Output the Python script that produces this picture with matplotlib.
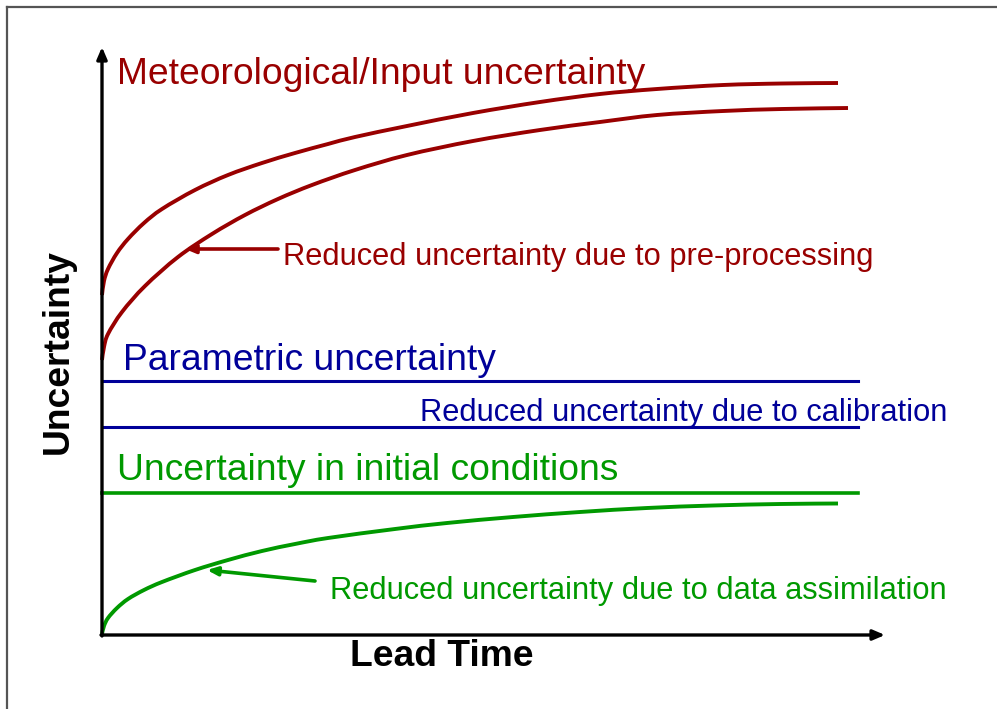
import matplotlib.pyplot as plt
import numpy as np
from matplotlib.lines import Line2D
from matplotlib.path import Path
from matplotlib.patches import PathPatch

plt.rcParams['font.family'] = ['Liberation Sans', 'DejaVu Sans']

RED = '#990000'
BLUE = '#000099'
GREEN = '#009900'

# lead time / uncertainty readings (arbitrary units, origin at the axes corner)
met_lead = [0, 2, 6, 15, 26, 42, 60, 93, 126, 160, 193, 226, 253, 305, 371, 438, 498, 555, 621,
            680, 736]
met_unc = [340, 354, 366, 382, 396, 412, 426, 445, 460, 472, 482, 491, 498, 509, 522, 533, 541,
           546, 550, 551.5, 552]

preproc_lead = [0, 2, 6, 20, 43, 76, 110, 143, 176, 210, 253, 305, 371, 438, 498, 555, 621,
                680, 746]
preproc_unc = [275, 288, 301, 323, 349, 378, 401, 420, 436, 450, 465, 480, 494, 505, 513, 520,
               524, 526, 527]

da_lead = [0, 2, 6, 15, 26, 42, 60, 93, 126, 160, 193, 226, 293, 345, 411, 478, 545, 611, 678,
           736]
da_unc = [1, 9, 17, 27, 36, 45, 53, 65, 75, 84, 91, 97, 106, 112, 118, 123, 127, 129.5, 131,
          131.5]

flat_end = 756
param_unc = 254
calib_unc = 208
init_unc = 142


def smooth_path(xs, ys):
    """Bezier path through the points (Catmull-Rom tangents)."""
    pts = np.column_stack([xs, ys]).astype(float)
    ext = np.vstack([pts[0], pts, pts[-1]])
    verts = [pts[0]]
    codes = [Path.MOVETO]
    for i in range(1, len(ext) - 2):
        p0, p1, p2, p3 = ext[i - 1], ext[i], ext[i + 1], ext[i + 2]
        verts += [p1 + (p2 - p0) / 6, p2 - (p3 - p1) / 6, p2]
        codes += [Path.CURVE4] * 3
    return Path(verts, codes)


def draw_curve(ax, xs, ys, color):
    ax.add_patch(PathPatch(smooth_path(xs, ys), fill=False, edgecolor=color, lw=2.8,
                           capstyle='butt'))


fig = plt.figure(figsize=(9.97, 7.09), dpi=100)
ax = fig.add_axes([0, 0, 1, 1])
ax.set_xlim(-102, 895)
ax.set_ylim(-74, 635)
ax.axis('off')

# page frame (top and left edges)
fig.add_artist(Line2D([0.007, 1.0], [0.990, 0.990], color='#555555', lw=1.6))
fig.add_artist(Line2D([0.007, 0.007], [0.0, 0.990], color='#555555', lw=1.6))

# axes with arrowheads
arrow_kw = dict(arrowstyle='-|>,head_length=0.7,head_width=0.3', color='black', lw=2.4,
                shrinkA=0, shrinkB=0)
ax.annotate('', xy=(0, 588), xytext=(0, -1), arrowprops=arrow_kw)
ax.annotate('', xy=(783, 0), xytext=(-1, 0), arrowprops=arrow_kw)

# meteorological uncertainty, before and after pre-processing
draw_curve(ax, met_lead, met_unc, RED)
draw_curve(ax, preproc_lead, preproc_unc, RED)

# parametric uncertainty, before and after calibration
ax.plot([0, flat_end], [param_unc, param_unc], color=BLUE, lw=2.2)
ax.plot([0, flat_end], [calib_unc, calib_unc], color=BLUE, lw=2.2)

# initial-condition uncertainty, before and after data assimilation
ax.plot([0, flat_end], [init_unc, init_unc], color=GREEN, lw=2.6)
draw_curve(ax, da_lead, da_unc, GREEN)

big = 26.8
small = 22.2
ax.text(15, 560, 'Meteorological/Input uncertainty', color=RED, fontsize=big, va='center')
ax.text(21, 274, 'Parametric uncertainty', color=BLUE, fontsize=big, va='center')
ax.text(15, 164, 'Uncertainty in initial conditions', color=GREEN, fontsize=big, va='center')

note_arrow = dict(arrowstyle='-|>,head_length=0.6,head_width=0.25', lw=2.6,
                  shrinkA=0, shrinkB=0)
ax.text(181, 378, 'Reduced uncertainty due to pre-processing', color=RED, fontsize=small,
        va='center')
ax.annotate('', xy=(83, 386), xytext=(176, 386), arrowprops=dict(note_arrow, color=RED))

ax.text(318, 222, 'Reduced uncertainty due to calibration', color=BLUE, fontsize=small,
        va='center')

ax.text(228, 44, 'Reduced uncertainty due to data assimilation', color=GREEN, fontsize=small,
        va='center')
ax.annotate('', xy=(105, 65), xytext=(213, 54), arrowprops=dict(note_arrow, color=GREEN))

ax.text(-44, 283, 'Uncertainty', fontsize=big, fontweight='bold', rotation=90,
        ha='center', va='center')
ax.text(340, -22, 'Lead Time', fontsize=big, fontweight='bold', ha='center', va='center')

fig.savefig('out.png', dpi=100)
